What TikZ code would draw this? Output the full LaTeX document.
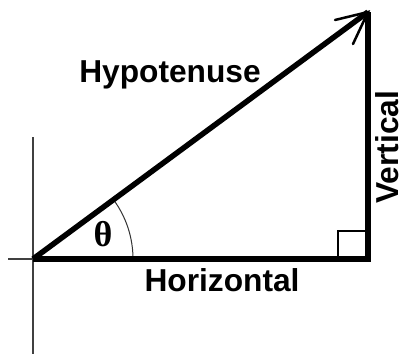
\documentclass[tikz,border=0pt]{standalone}
\usepackage{fontspec}
\setmainfont{Liberation Sans}
\newfontfamily\thetafont{Liberation Serif}
\begin{document}
\begin{tikzpicture}[x=1pt,y=-1pt,
  thick line/.style={line width=5.5pt},
  axis line/.style={line width=2pt,black!75},
  barb/.style={line width=2.5pt},
  label text/.style={inner sep=0pt,font=\fontsize{31.7}{36}\selectfont\bfseries}]
\useasboundingbox (0,0) rectangle (405,354);
\fill[white] (0,0) rectangle (405,354);
% coordinates
\coordinate (O) at (33,259);
\coordinate (B) at (368,259);
\coordinate (A) at (368,12);
\coordinate (axtop) at (32.5,137);
\coordinate (axbot) at (32.5,354);
\coordinate (axleft) at (8,259);
\coordinate (barb1) at (335,20);
\coordinate (barb2) at (353,44);
% axes
\draw[axis line] (axtop) -- (axbot);
\draw[axis line] (axleft) -- (O);
% right angle mark
\draw[line width=1.5pt] (338,259) -- (338,231) -- (368,231);
% angle arc
\draw[line width=1pt,black!80] (133,259) arc[start angle=0,end angle=-36.4,radius=100];
% triangle
\draw[thick line,miter limit=10] (O) -- (B) -- (A);
\draw[thick line] (O) -- (A);
\draw[barb,line cap=round] (barb1) -- (A) -- (barb2);
% labels
\node[label text,anchor=base] (hyp) at (170,82) {Hypotenuse};
\node[label text,anchor=base] (hor) at (222,291) {Horizontal};
\node[label text,anchor=base,rotate=90] (ver) at (398,147) {Vertical};
\node[inner sep=0pt,font=\thetafont\fontsize{36}{40}\selectfont\bfseries] (theta) at (103,234) {θ};
\end{tikzpicture}
\end{document}
